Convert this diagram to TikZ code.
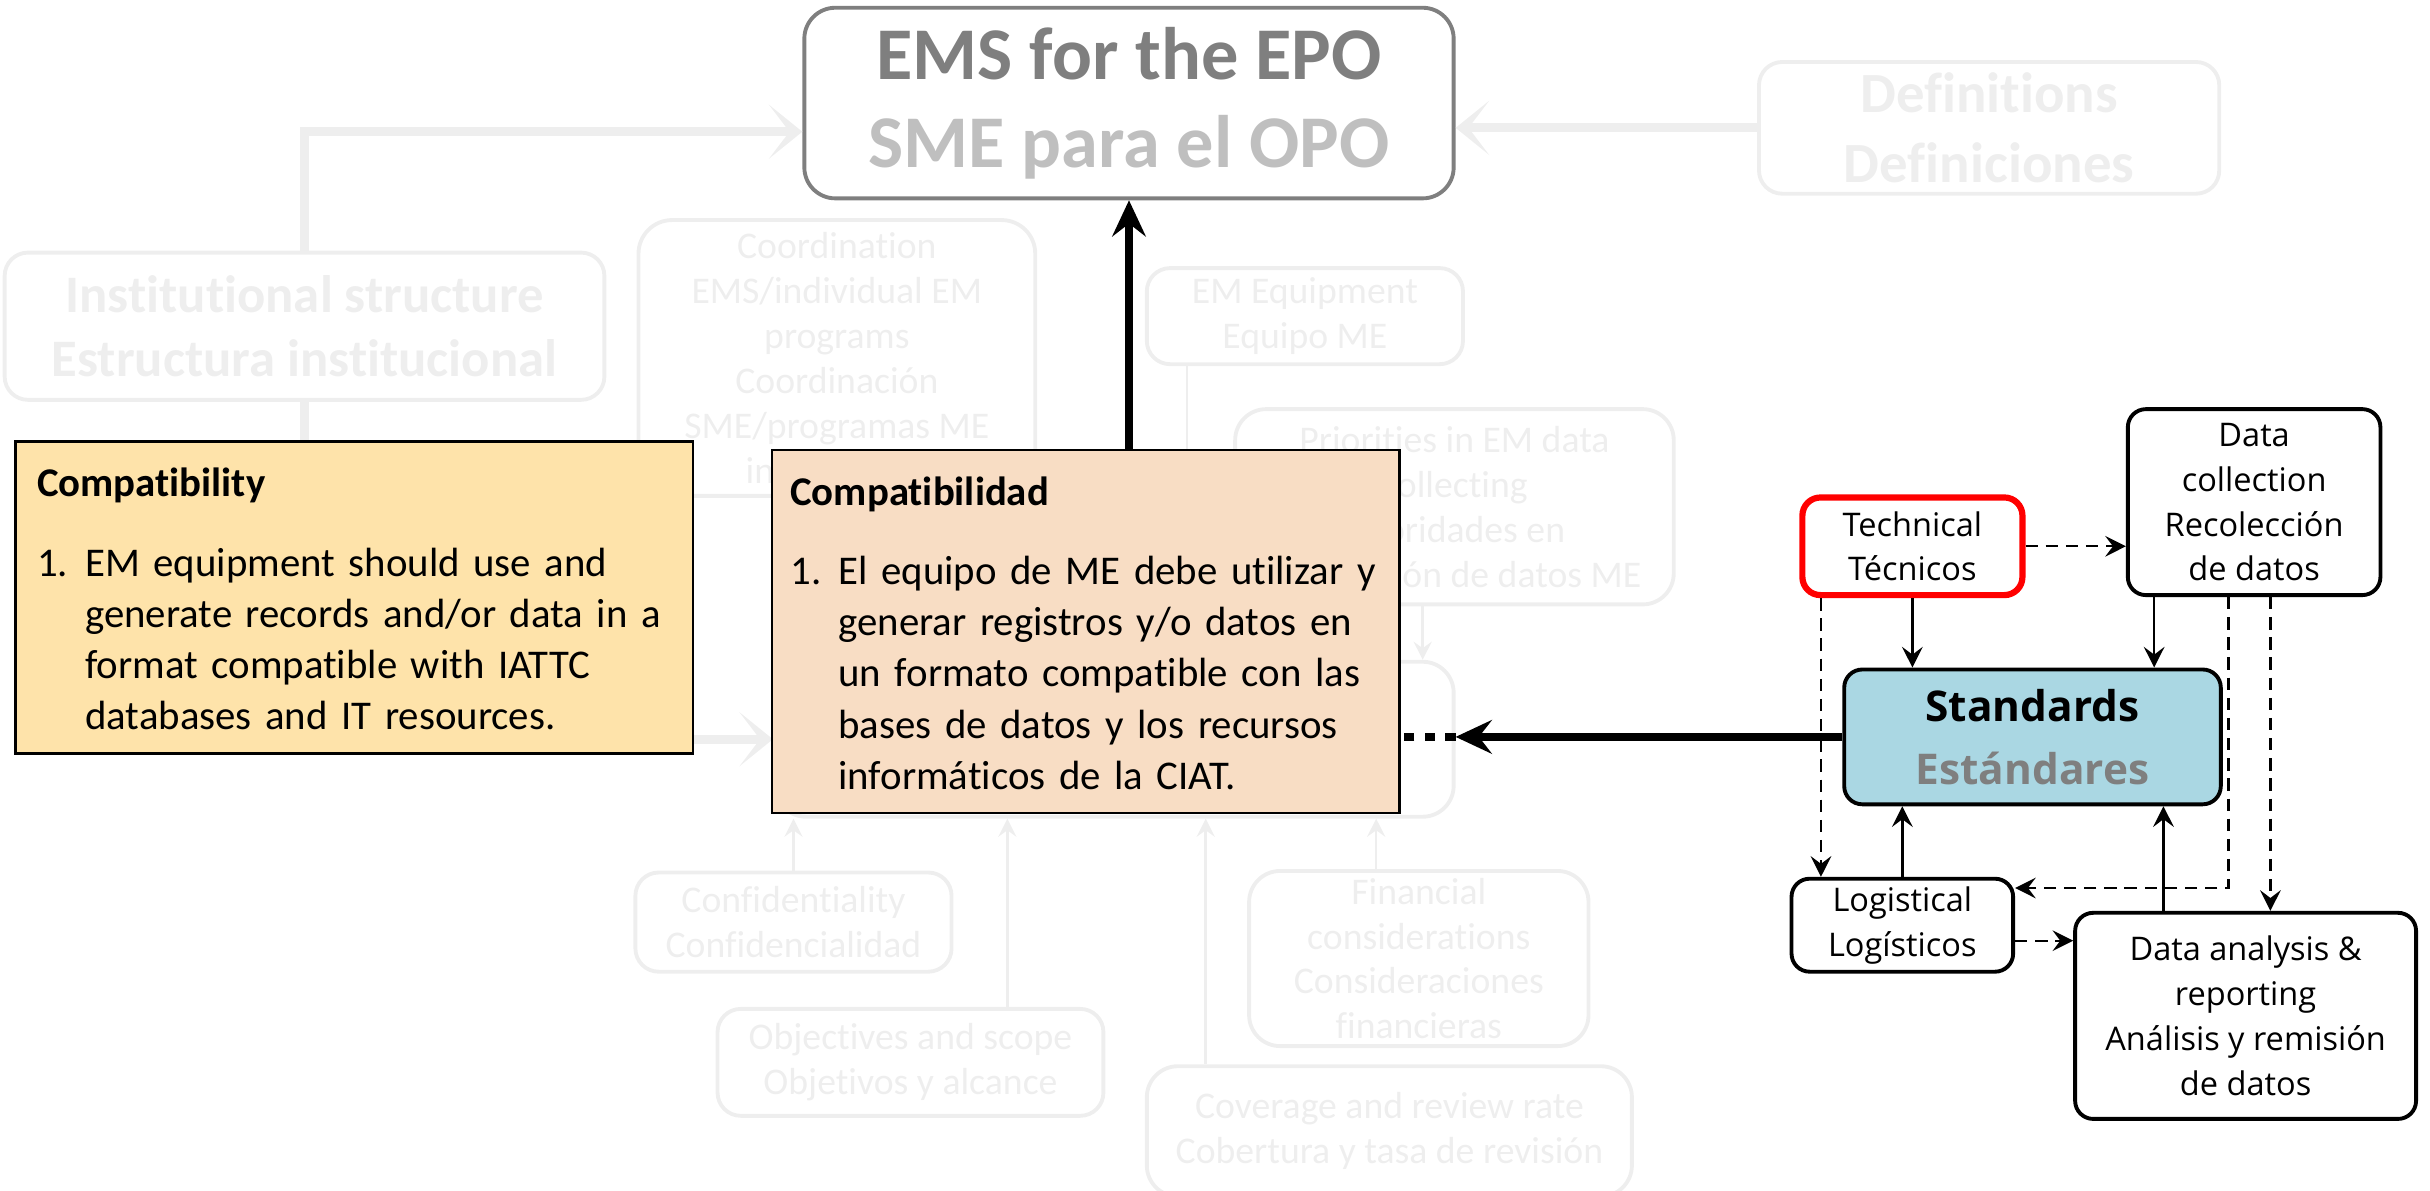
\documentclass[tikz,border=0pt]{standalone}
\usepackage{fontspec}
\setmainfont{Carlito}[Ligatures={NoCommon}]
\newfontfamily\segoe{Open Sans}
\usepackage{tikz}
\usetikzlibrary{arrows.meta,positioning}

\definecolor{fade}{RGB}{238,238,238}
\definecolor{emsdark}{RGB}{127,127,127}
\definecolor{emslight}{RGB}{191,191,191}
\definecolor{compyellow}{RGB}{254,227,170}
\definecolor{comppeach}{RGB}{248,221,196}
\definecolor{stdblue}{RGB}{170,215,227}

\tikzstyle{faded} = [draw=fade, line width=1.5pt, rounded corners=9pt, text=fade, align=center, inner sep=0pt, font=\fontsize{14.6pt}{17.4pt}\selectfont]
\tikzstyle{fadeline} = [draw=fade, line width=1pt, -{Stealth[length=7pt,width=7pt,inset=2.5pt]}]
\tikzstyle{fadethick} = [draw=fade, line width=3.6pt, -{Stealth[length=13pt,width=21pt,inset=8pt]}]
\tikzstyle{emsbox} = [draw=emsdark, line width=1.5pt, rounded corners=12pt, text=emsdark, align=center, inner sep=0pt, font=\bfseries\fontsize{28.8pt}{34.2pt}\selectfont]
\tikzstyle{compbox} = [draw=black, line width=0.9pt, align=left, font=\fontsize{15.8pt}{19.8pt}\selectfont]
\tikzstyle{rbox} = [draw=black, line width=1.5pt, rounded corners=7pt, align=center, inner sep=0pt, font=\segoe\fontsize{12.6pt}{17.4pt}\selectfont]
\tikzstyle{solidarrow} = [line width=0.9pt, -{Stealth[length=8pt,width=8pt,inset=3pt]}]
\tikzstyle{dasharrow} = [solidarrow, dash pattern=on 4.8pt off 3pt]
\tikzstyle{mainarrow} = [line width=3pt, -{Stealth[length=14pt,width=13pt,inset=5pt]}]

\begin{document}
\begin{tikzpicture}[x=0.6pt,y=-0.6pt]
	\useasboundingbox (0,0) rectangle (1568,768);
	\clip (0,0) rectangle (1568,768);

	% goal
	\node[emsbox, minimum width=251.4pt, minimum height=73.8pt] (ems) at (728.5,66.5) {EMS for the EPO\\\textcolor{emslight}{SME para el OPO}};

	% faded background of the full framework
	\node[faded, font=\bfseries\fontsize{22pt}{27pt}\selectfont, minimum width=178.2pt, minimum height=51pt] (defs) at (1283.5,82.5) {Definitions\\Definiciones};
	\node[faded, font=\bfseries\fontsize{20.4pt}{24.6pt}\selectfont, minimum width=232.2pt, minimum height=57pt] (inst) at (196.5,210.5) {Institutional structure\\Estructura institucional};
	\node[faded, rounded corners=13pt, minimum width=153.6pt, minimum height=106.8pt] (coord) at (540,231) {Coordination\\EMS/individual EM\\programs\\Coordinación\\SME/programas ME\\individuales};
	\node[faded, minimum width=122.4pt, minimum height=37.2pt] (eme) at (842,204) {EM Equipment\\Equipo ME};
	\node[faded, rounded corners=12pt, minimum width=169.8pt, minimum height=75.6pt] (prio) at (938.5,327) {Priorities in EM data\\collecting\\Prioridades en\\recolección de datos ME};
	\node[faded, rounded corners=12pt, minimum width=262.8pt, minimum height=60pt] (hidden) at (719,477) {};
	\node[faded, minimum width=122.4pt, minimum height=38.4pt] (conf) at (512,595) {Confidentiality\\Confidencialidad};
	\node[faded, minimum width=149.4pt, minimum height=41.4pt] (obj) at (587.5,685.5) {Objectives and scope\\Objetivos y alcance};
	\node[faded, rounded corners=12pt, minimum width=187.8pt, minimum height=50.4pt] (cov) at (896.5,730) {Coverage and review rate\\Cobertura y tasa de revisión};
	\node[faded, rounded corners=12pt, minimum width=131.4pt, minimum height=67.8pt] (fin) at (915.5,618.5) {Financial\\considerations\\Consideraciones\\financieras};

	\draw[fadethick] (inst.north) |- ([yshift=-11.1pt]ems.west);
	\draw[fadethick] (defs.west) -- (defs.west -| ems.east);
	\draw[fadethick] (inst.south) |- (hidden.west);
	\draw[fadeline] ([xshift=-45.6pt]eme.south) -- ([xshift=-45.6pt]eme.south |- hidden.north);
	\draw[fadeline] ([xshift=-12.3pt]prio.south) -- ([xshift=-12.3pt]prio.south |- hidden.north);
	\draw[fadeline] (conf.north) -- (conf.north |- hidden.south);
	\draw[fadeline] ([xshift=37.5pt]obj.north) -- ([xshift=37.5pt]obj.north |- hidden.south);
	\draw[fadeline] ([xshift=-71.1pt]cov.north) -- ([xshift=-71.1pt]cov.north |- hidden.south);
	\draw[fadeline] ([xshift=-16.5pt]fin.north) -- ([xshift=-16.5pt]fin.north |- hidden.south);

	% the two text boxes
	\node[compbox, fill=compyellow, text width=245.4pt, inner xsep=8.4pt, minimum height=120.6pt] (compen) at (228.5,385.5) {%
		\rule{0pt}{18pt}\textbf{Compatibility}\\[11pt]
		\begin{tabular}[t]{@{}p{18.6pt}@{}l@{}}
			1. & EM equipment should use and\\
			   & generate records and/or data in a\\
			   & format compatible with IATTC\\
			   & databases and IT resources.
		\end{tabular}};
	\node[compbox, fill=comppeach, text width=228.6pt, inner xsep=7.2pt, minimum height=139.8pt] (compes) at (700.5,407.5) {%
		\rule{0pt}{18pt}\textbf{Compatibilidad}\\[11pt]
		\begin{tabular}[t]{@{}p{18.6pt}@{}l@{}}
			1. & El equipo de ME debe utilizar y\\
			   & generar registros y/o datos en\\
			   & un formato compatible con las\\
			   & bases de datos y los recursos\\
			   & informáticos de la CIAT.
		\end{tabular}};

	% standards cluster
	\node[rbox, draw=red, line width=2.4pt, minimum width=85.2pt, minimum height=37.8pt] (tech) at (1234,352.5) {Technical\\Técnicos};
	\node[rbox, minimum width=97.8pt, minimum height=72pt] (dc) at (1454.5,324) {Data\\collection\\Recolección\\de datos};
	\node[rbox, fill=stdblue, minimum width=145.8pt, minimum height=52.2pt, font=\segoe\bfseries\fontsize{16.4pt}{24.6pt}\selectfont] (std) at (1311.5,475.5) {Standards\\\textcolor{emsdark}{Estándares}};
	\node[rbox, minimum width=85.8pt, minimum height=36pt] (lg) at (1227.5,597) {Logistical\\Logísticos};
	\node[rbox, minimum width=132pt, minimum height=79.8pt] (da) at (1449,655.5) {Data analysis \&\\reporting\\Análisis y remisión\\de datos};

	\draw[dasharrow] (tech.east) -- (tech.east -| dc.west);
	\draw[solidarrow] (tech.south) -- (tech.south |- std.north);
	\draw[solidarrow] ([xshift=-38.7pt]dc.south) -- ([xshift=-38.7pt]dc.south |- std.north);
	\draw[solidarrow] (lg.north) -- (lg.north |- std.south);
	\draw[solidarrow] ([xshift=-31.8pt]da.north) -- ([xshift=-31.8pt]da.north |- std.south);
	\draw[dasharrow] ([xshift=-35.4pt]tech.south) -- ([xshift=-35.4pt]tech.south |- lg.north);
	\draw[dasharrow] ([xshift=-9.9pt]dc.south) |- ([yshift=14.4pt]lg.east);
	\draw[dasharrow] ([xshift=6.3pt]dc.south) -- ([xshift=6.3pt]dc.south |- da.north);
	\draw[dasharrow] ([yshift=-6pt]lg.east) -- ([yshift=-6pt]lg.east -| da.west);

	% main links
	\draw[mainarrow] (std.west) -- (std.west -| hidden.east);
	\draw[line width=3pt, dash pattern=on 4pt off 4pt] (std.west -| hidden.east) -- (std.west -| compes.east);
	\draw[mainarrow] (ems.south |- compes.north) -- (ems.south);
\end{tikzpicture}
\end{document}
